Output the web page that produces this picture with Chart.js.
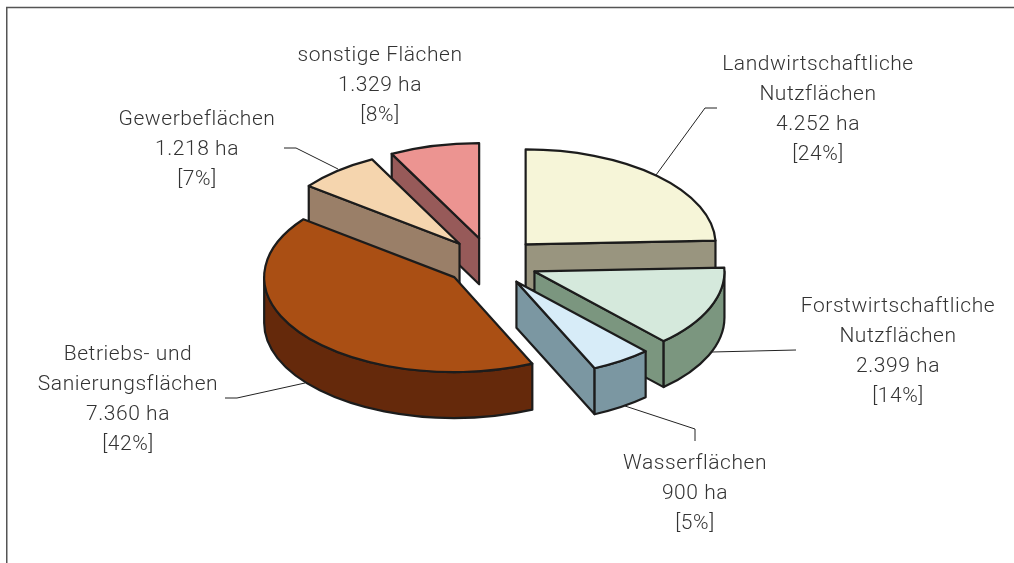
<!DOCTYPE html>
<html lang="de">
<head>
<meta charset="utf-8">
<title>Flächen</title>
<style>
  html, body { margin: 0; background: #fff; }
  canvas { display: block; }
</style>
<script src="https://cdn.jsdelivr.net/npm/chart.js@4"></script>
</head>
<body>
<canvas id="pie" width="1014" height="563"></canvas>
<script>
const categories = [
  ["Landwirtschaftliche", "Nutzflächen"],
  ["Forstwirtschaftliche", "Nutzflächen"],
  ["Wasserflächen"],
  ["Betriebs- und", "Sanierungsflächen"],
  ["Gewerbeflächen"],
  ["sonstige Flächen"]
];
const hectares = [4252, 2399, 900, 7360, 1218, 1329];

const topColors = ["#f6f5d8", "#d5e9dc", "#d7ecf8", "#aa4f14", "#f5d5ae", "#ec9491"];
const sideColors = ["#99957f", "#7b967f", "#7b97a2", "#65290b", "#9a7f68", "#975a59"];
const explode = [50, 47, 46, 47, 49, 50];
const paintOrder = [5, 4, 0, 3, 1, 2];

const squash = 0.5;
const depth = 46;
const outline = "#1c1c1c";

// center x, first baseline, leader line
const labelSpots = [
  { x: 818, y: 70, leader: [[717, 108], [705, 108], [656, 175]] },
  { x: 898, y: 312, leader: [[796, 350], [712, 352]] },
  { x: 695, y: 469, leader: [[695, 441], [695, 429], [625, 406]] },
  { x: 128, y: 360, leader: [[225, 398], [237, 398], [305, 383]] },
  { x: 197, y: 125, leader: [[284, 148], [296, 148], [338, 169]] },
  { x: 380, y: 61, leader: [] }
];

const total = hectares.reduce((a, b) => a + b, 0);
const haText = v => String(v).replace(/\B(?=(\d{3})+$)/g, ".") + " ha";

function drawSlice(ctx, arc, i) {
  const { x, y, startAngle: s, endAngle: e, outerRadius: r } = arc;
  const mid = (s + e) / 2;
  const px = x + Math.cos(mid) * explode[i];
  const py = y + Math.sin(mid) * explode[i] * squash;

  ctx.lineWidth = 2.2;
  ctx.lineJoin = "round";
  ctx.strokeStyle = outline;
  ctx.fillStyle = sideColors[i];

  const face = a => {
    const ox = px + Math.cos(a) * r;
    const oy = py + Math.sin(a) * r * squash;
    ctx.beginPath();
    ctx.moveTo(px, py);
    ctx.lineTo(ox, oy);
    ctx.lineTo(ox, oy + depth);
    ctx.lineTo(px, py + depth);
    ctx.closePath();
    ctx.fill();
    ctx.stroke();
  };
  if (Math.cos(s) < -1e-6) face(s);
  if (Math.cos(e) > 1e-6) face(e);

  // outer wall, only the part turned towards the viewer
  const w0 = Math.max(s, 0);
  const w1 = Math.min(e, Math.PI);
  if (w1 > w0) {
    ctx.beginPath();
    ctx.ellipse(px, py, r, r * squash, 0, w0, w1);
    ctx.ellipse(px, py + depth, r, r * squash, 0, w1, w0, true);
    ctx.closePath();
    ctx.fill();
    ctx.stroke();
  }

  // top face comes from the arc element itself
  ctx.save();
  ctx.translate(px, py);
  ctx.scale(1, squash);
  ctx.translate(-x, -y);
  arc.draw(ctx);
  ctx.restore();

  ctx.beginPath();
  ctx.moveTo(px, py);
  ctx.ellipse(px, py, r, r * squash, 0, s, e);
  ctx.closePath();
  ctx.stroke();
}

const pie3d = {
  id: "pie3d",
  beforeDatasetDraw(chart) {
    const ctx = chart.ctx;
    const arcs = chart.getDatasetMeta(0).data;
    ctx.save();
    paintOrder.forEach(i => drawSlice(ctx, arcs[i], i));
    ctx.restore();
    return false;
  },
  afterDraw(chart) {
    const ctx = chart.ctx;
    ctx.save();

    // frame, open at right and bottom
    ctx.strokeStyle = "#555";
    ctx.lineWidth = 1.5;
    ctx.beginPath();
    ctx.moveTo(6.75, 563);
    ctx.lineTo(6.75, 7.5);
    ctx.lineTo(1014, 7.5);
    ctx.stroke();

    ctx.strokeStyle = "#222";
    ctx.lineWidth = 1;
    labelSpots.forEach(spot => {
      if (!spot.leader.length) return;
      ctx.beginPath();
      spot.leader.forEach(([lx, ly], k) => k ? ctx.lineTo(lx, ly) : ctx.moveTo(lx, ly));
      ctx.stroke();
    });

    ctx.fillStyle = "#333";
    ctx.font = "300 21px Roboto, 'Liberation Sans', sans-serif";
    ctx.letterSpacing = "0.55px";
    ctx.textAlign = "center";
    ctx.textBaseline = "alphabetic";
    categories.forEach((name, i) => {
      const pct = Math.round(hectares[i] / total * 100);
      const lines = [...name, haText(hectares[i]), `[${pct}%]`];
      lines.forEach((line, k) => ctx.fillText(line, labelSpots[i].x, labelSpots[i].y + k * 30));
    });
    ctx.restore();
  }
};

new Chart(document.getElementById("pie"), {
  type: "pie",
  data: {
    labels: categories.map(c => c.join(" ")),
    datasets: [{
      data: hectares,
      backgroundColor: topColors,
      borderWidth: 0
    }]
  },
  options: {
    responsive: false,
    animation: false,
    radius: 190,
    layout: { padding: { right: 32, bottom: 38 } },
    plugins: { legend: { display: false }, tooltip: { enabled: false } }
  },
  plugins: [pie3d]
});
</script>
</body>
</html>
